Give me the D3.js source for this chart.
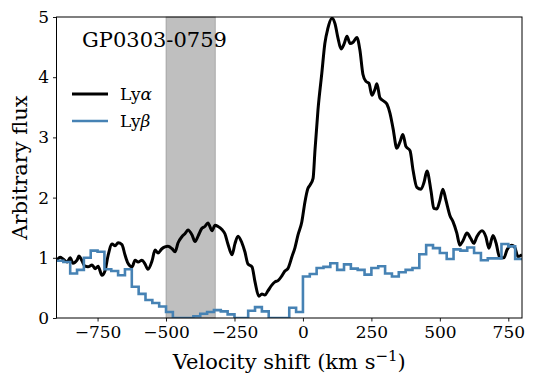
<!DOCTYPE html>
<html>
<head>
<meta charset="utf-8">
<script src="https://cdn.jsdelivr.net/npm/d3@7"></script>
<style>
  body { margin: 0; background: #fff; }
  svg text { font-family: "DejaVu Serif", serif; fill: #000; }
</style>
</head>
<body>
<svg id="chart" width="537" height="384"></svg>
<script>
// Ly alpha profile (velocity in km/s, arbitrary flux)
const lyaVel = [-898,-887,-876,-861,-850,-840,-825,-818,-807,-796,-785,-770,-759,-748,-734,-723,-712,-697,-686,-675,
  -661,-650,-639,-624,-613,-602,-588,-577,-566,-551,-540,-529,-515,-504,-493,-478,-467,-456,-442,-431,
  -420,-405,-394,-383,-369,-358,-347,-332,-321,-310,-296,-285,-274,-259,-248,-237,-223,-212,-201,-186,
  -175,-161,-150,-139,-128,-113,-102,-91,-77,-66,-55,-40,-29,-18,-4,7,18,26,37,44,
  55,69,80,91,106,117,128,139,150,161,172,183,197,208,219,230,241,252,263,270,
  281,296,307,318,329,343,354,365,376,391,402,416,431,442,453,468,478,489,500,511,
  522,537,548,562,573,584,599,613,624,635,654,668,679,694,705,719,734,745,763,774,785,800];
const lyaFlux = [0.96,1.01,0.98,0.93,1.00,0.91,0.96,1.03,0.95,0.86,0.85,0.88,0.82,0.86,0.71,0.78,1.03,1.23,1.20,1.25,
  1.22,1.05,0.91,0.85,0.96,0.93,0.96,0.90,0.81,0.95,1.13,1.08,1.15,1.18,1.19,1.15,1.10,1.25,1.35,1.40,
  1.46,1.38,1.27,1.36,1.49,1.52,1.58,1.45,1.54,1.52,1.47,1.40,1.23,1.05,1.24,1.36,1.25,1.10,0.90,0.85,
  0.60,0.36,0.40,0.38,0.45,0.55,0.60,0.62,0.70,0.78,0.82,1.02,1.17,1.38,1.60,1.92,2.15,2.21,2.32,2.79,
  3.46,4.07,4.56,4.81,4.98,4.89,4.65,4.47,4.55,4.68,4.56,4.58,4.66,4.45,4.05,3.93,3.90,3.70,3.80,3.89,
  3.66,3.60,3.55,3.40,3.15,2.82,2.92,3.05,2.85,2.78,2.46,2.17,2.14,2.25,2.44,2.10,1.82,1.81,1.95,2.14,
  1.96,1.70,1.60,1.41,1.21,1.28,1.41,1.32,1.24,1.35,1.45,1.35,1.16,1.37,1.25,1.00,1.00,1.13,1.21,1.17,1.02,1.05];

// Ly beta binned profile (left bin edges, 25 km/s bins)
const lybVel = [-900,-875,-850,-825,-800,-775,-750,-725,-700,-675,-650,-625,-600,-575,-550,-525,-500,-475,-450,-425,
  -400,-375,-350,-325,-300,-275,-250,-225,-200,-175,-150,-125,-100,-75,-50,-25,0,25,50,75,
  100,125,150,175,200,225,250,275,300,325,350,375,400,425,450,475,500,525,550,575,
  600,625,650,675,700,725,750,775];
const lybFlux = [0.95,0.93,0.74,0.80,1.00,1.12,1.10,0.81,0.78,0.71,
  0.81,0.52,0.40,0.30,0.25,0.19,0.10,0.00,0.00,0.00,
  0.03,0.07,0.10,0.13,0.11,0.06,0.00,0.00,0.12,0.18,
  0.11,0.00,0.00,0.00,0.17,0.10,0.69,0.73,0.83,0.85,
  0.91,0.80,0.89,0.82,0.80,0.72,0.83,0.86,0.74,0.69,
  0.76,0.80,0.83,1.06,1.21,1.16,1.08,0.98,1.14,1.12,
  1.17,1.08,0.96,0.99,0.99,1.23,1.19,0.98];

const shadeRange = [-500, -320];
const xTicks = [-750, -500, -250, 0, 250, 500, 750];
const yTicks = [0, 1, 2, 3, 4, 5];
const seriesNames = ["Ly", "Ly"];
const seriesGreek = ["\u03b1", "\u03b2"];
const seriesColors = ["#000000", "steelblue"];
const title = "GP0303-0759";

var svg = d3.select("#chart");
var plotLeft = 56.5, plotRight = 522, plotTop = 17, plotBottom = 318;

var x = d3.scaleLinear().domain([-900, 800]).range([plotLeft, plotRight]);
var y = d3.scaleLinear().domain([0, 5]).range([plotBottom, plotTop]);

svg.append("defs").append("clipPath").attr("id", "plot-clip")
  .append("rect")
  .attr("x", plotLeft).attr("y", plotTop)
  .attr("width", plotRight - plotLeft).attr("height", plotBottom - plotTop);

// shaded velocity window
svg.append("rect")
  .attr("x", x(shadeRange[0]))
  .attr("y", plotTop)
  .attr("width", x(shadeRange[1]) - x(shadeRange[0]))
  .attr("height", plotBottom - plotTop)
  .attr("fill", "gray").attr("fill-opacity", 0.5)
  .attr("stroke", "gray").attr("stroke-opacity", 0.5).attr("stroke-width", 1);

var plot = svg.append("g").attr("clip-path", "url(#plot-clip)");

var lyaLine = d3.line()
  .x((d, i) => x(lyaVel[i]))
  .y(d => y(d))
  .curve(d3.curveMonotoneX);

plot.append("path")
  .datum(lyaFlux)
  .attr("d", lyaLine)
  .attr("fill", "none")
  .attr("stroke", seriesColors[0])
  .attr("stroke-width", 3)
  .attr("stroke-linejoin", "round");

// close the last bin at the right edge
var lybPoints = lybVel.map((v, i) => [v, lybFlux[i]]);
lybPoints.push([800, lybFlux[lybFlux.length - 1]]);

var lybLine = d3.line()
  .x(d => x(d[0]))
  .y(d => y(d[1]))
  .curve(d3.curveStepAfter);

plot.append("path")
  .datum(lybPoints)
  .attr("d", lybLine)
  .attr("fill", "none")
  .attr("stroke", seriesColors[1])
  .attr("stroke-width", 2.6);

// axes
var xAxis = svg.append("g")
  .attr("transform", `translate(0,${plotBottom})`)
  .call(d3.axisBottom(x).tickValues(xTicks).tickSize(3.5).tickPadding(4)
    .tickFormat(d => d < 0 ? "\u2212" + Math.abs(d) : d));
var yAxis = svg.append("g")
  .attr("transform", `translate(${plotLeft},0)`)
  .call(d3.axisLeft(y).tickValues(yTicks).tickSize(3.5).tickPadding(4)
    .tickFormat(d3.format("d")));

[xAxis, yAxis].forEach(g => {
  g.select(".domain").remove();
  g.selectAll(".tick line").attr("stroke", "#000").attr("stroke-width", 0.9);
  g.selectAll("text").attr("font-family", "DejaVu Serif").attr("font-size", 17).attr("fill", "#000");
});

// frame
svg.append("rect")
  .attr("x", plotLeft).attr("y", plotTop)
  .attr("width", plotRight - plotLeft).attr("height", plotBottom - plotTop)
  .attr("fill", "none").attr("stroke", "#000").attr("stroke-width", 1);

// axis labels
var xl = svg.append("text")
  .attr("x", (plotLeft + plotRight) / 2).attr("y", 369)
  .attr("text-anchor", "middle").attr("font-size", 21)
  .text("Velocity shift (km s");
xl.append("tspan").attr("dy", -8).attr("font-size", 15).text("\u22121");
xl.append("tspan").attr("dy", 8).text(")");

svg.append("text")
  .attr("transform", `translate(27,${(plotTop + plotBottom) / 2}) rotate(-90)`)
  .attr("text-anchor", "middle").attr("font-size", 21)
  .text("Arbitrary flux");

// title
svg.append("text")
  .attr("x", 82).attr("y", 46.5)
  .attr("font-size", 21)
  .text(title);

// legend
var legend = svg.append("g");
seriesNames.forEach((name, i) => {
  var ly = 94 + i * 27;
  legend.append("line")
    .attr("x1", 72).attr("x2", 108)
    .attr("y1", ly).attr("y2", ly)
    .attr("stroke", seriesColors[i]).attr("stroke-width", i === 0 ? 3 : 2.6);
  var t = legend.append("text")
    .attr("x", 120).attr("y", ly + 6)
    .attr("font-size", 17)
    .text(name);
  t.append("tspan").attr("font-style", "italic").text(seriesGreek[i]);
});
</script>
</body>
</html>
